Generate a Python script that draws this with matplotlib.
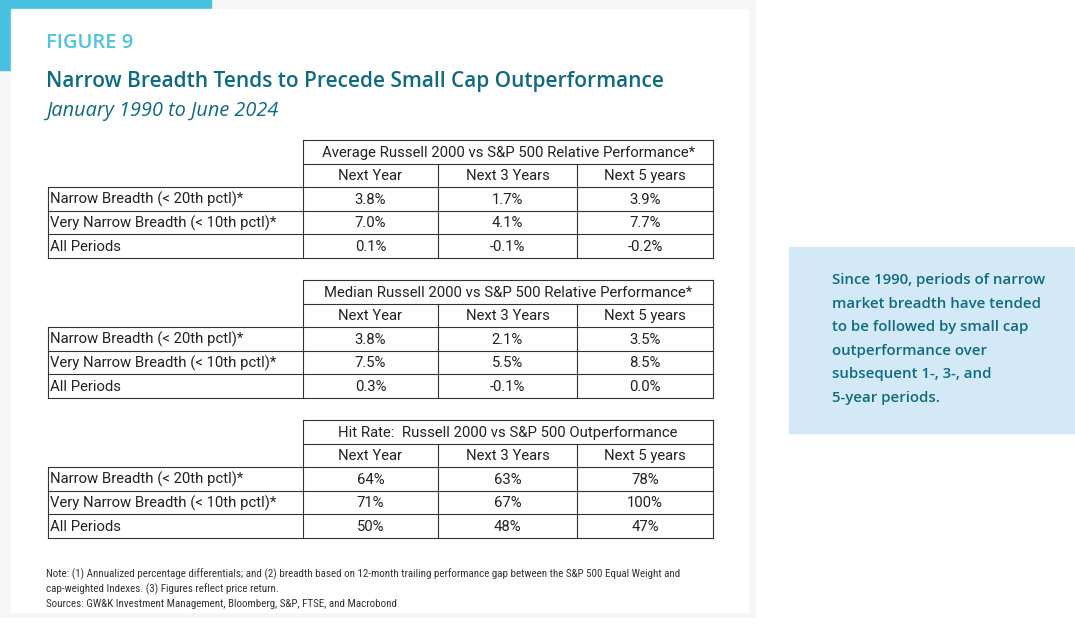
import matplotlib.pyplot as plt
from matplotlib.patches import Rectangle

# data
row_labels = ['Narrow Breadth (< 20th pctl)*', 'Very Narrow Breadth (< 10th pctl)*', 'All Periods']
col_labels = ['Next Year', 'Next 3 Years', 'Next 5 years']
table_titles = ['Average Russell 2000 vs S&P 500 Relative Performance*',
                'Median Russell 2000 vs S&P 500 Relative Performance*',
                'Hit Rate:  Russell 2000 vs S&P 500 Outperformance']
avg_perf = [['3.8%', '1.7%', '3.9%'],
            ['7.0%', '4.1%', '7.7%'],
            ['0.1%', '-0.1%', '-0.2%']]
median_perf = [['3.8%', '2.1%', '3.5%'],
               ['7.5%', '5.5%', '8.5%'],
               ['0.3%', '-0.1%', '0.0%']]
hit_rate = [['64%', '63%', '78%'],
            ['71%', '67%', '100%'],
            ['50%', '48%', '47%']]
tables = [avg_perf, median_perf, hit_rate]

narrow = ['Roboto', 'DejaVu Sans']
note_font = ['Roboto Condensed', 'Archivo Narrow', 'DejaVu Sans']
head_font = ['Open Sans', 'Lato', 'DejaVu Sans']
teal = '#0f6b80'

fig = plt.figure(figsize=(10.75, 6.26), dpi=100)
fig.patch.set_facecolor('#f6f6f6')
ax = fig.add_axes([0, 0, 1, 1])
ax.set_xlim(0, 1075)
ax.set_ylim(626, 0)
ax.axis('off')

# background pieces
ax.add_patch(Rectangle((0, 0), 211, 70, color='#48c0df', zorder=1))
ax.add_patch(Rectangle((756, 0), 319, 626, color='white', zorder=0))
ax.add_patch(Rectangle((0, 618), 1075, 8, color='white', zorder=0))
ax.add_patch(Rectangle((11, 9), 737, 603, color='white', zorder=2))
ax.add_patch(Rectangle((789, 247), 286, 186, color='#d3e9f7', zorder=2))

# headings
ax.text(46, 43, 'FIGURE 9', fontsize=14.5, color='#4ec3e0', fontfamily=head_font,
        fontweight='semibold', va='center', zorder=3)
ax.text(46, 81, 'Narrow Breadth Tends to Precede Small Cap Outperformance', fontsize=15,
        color=teal, fontfamily=head_font, fontweight='semibold', va='center', zorder=3)
ax.text(46, 111, 'January 1990 to June 2024', fontsize=14.3, color=teal,
        fontfamily=head_font, style='italic', va='center', zorder=3)

# tables
x_edges = [48, 303, 438, 577, 713]
row_h = 23.5
tops = [140, 280, 420]
lc = '#333333'
lw = 0.8
fs = 10.7
tc = '#222222'
for top, title, vals in zip(tops, table_titles, tables):
    ys = [top + i * row_h for i in range(6)]
    ax.plot([x_edges[1], x_edges[4]], [ys[0], ys[0]], color=lc, lw=lw, zorder=3)
    ax.plot([x_edges[1], x_edges[4]], [ys[1], ys[1]], color=lc, lw=lw, zorder=3)
    for y in ys[2:]:
        ax.plot([x_edges[0], x_edges[4]], [y, y], color=lc, lw=lw, zorder=3)
    ax.plot([x_edges[1], x_edges[1]], [ys[0], ys[5]], color=lc, lw=lw, zorder=3)
    ax.plot([x_edges[4], x_edges[4]], [ys[0], ys[5]], color=lc, lw=lw, zorder=3)
    for xe in x_edges[2:4]:
        ax.plot([xe, xe], [ys[1], ys[5]], color=lc, lw=lw, zorder=3)
    ax.plot([x_edges[0], x_edges[0]], [ys[2], ys[5]], color=lc, lw=lw, zorder=3)
    ax.text((x_edges[1] + x_edges[4]) / 2, (ys[0] + ys[1]) / 2 + 1, title, fontsize=fs,
            fontfamily=narrow, ha='center', va='center', color=tc, zorder=3)
    for j, c in enumerate(col_labels):
        ax.text((x_edges[j + 1] + x_edges[j + 2]) / 2, (ys[1] + ys[2]) / 2 + 1, c, fontsize=fs,
                fontfamily=narrow, ha='center', va='center', color=tc, zorder=3)
    for i, lab in enumerate(row_labels):
        yc = (ys[i + 2] + ys[i + 3]) / 2 + 1
        ax.text(x_edges[0] + 2, yc, lab, fontsize=fs, fontfamily=narrow, ha='left',
                va='center', color=tc, zorder=3)
        for j, v in enumerate(vals[i]):
            ax.text((x_edges[j + 1] + x_edges[j + 2]) / 2, yc, v, fontsize=fs,
                    fontfamily=narrow, ha='center', va='center', color=tc, zorder=3)

# notes
notes = ['Note: (1) Annualized percentage differentials; and (2) breadth based on 12-month trailing performance gap between the S&P 500 Equal Weight and',
         'cap-weighted Indexes. (3) Figures reflect price return.',
         'Sources: GW&K Investment Management, Bloomberg, S&P, FTSE, and Macrobond']
for k, n in enumerate(notes):
    ax.text(46, 574 + k * 15, n, fontsize=7.95, fontfamily=note_font, color='#333333',
            va='center', zorder=3)

# side box text
side = ['Since 1990, periods of narrow', 'market breadth have tended', 'to be followed by small cap',
        'outperformance over', 'subsequent 1-, 3-, and', '5-year periods.']
for k, s in enumerate(side):
    ax.text(832, 280 + k * 23.6, s, fontsize=10.8, fontfamily=head_font, fontweight='semibold',
            color=teal, va='center', zorder=3)

fig.savefig('out.png', dpi=100, facecolor=fig.get_facecolor())
